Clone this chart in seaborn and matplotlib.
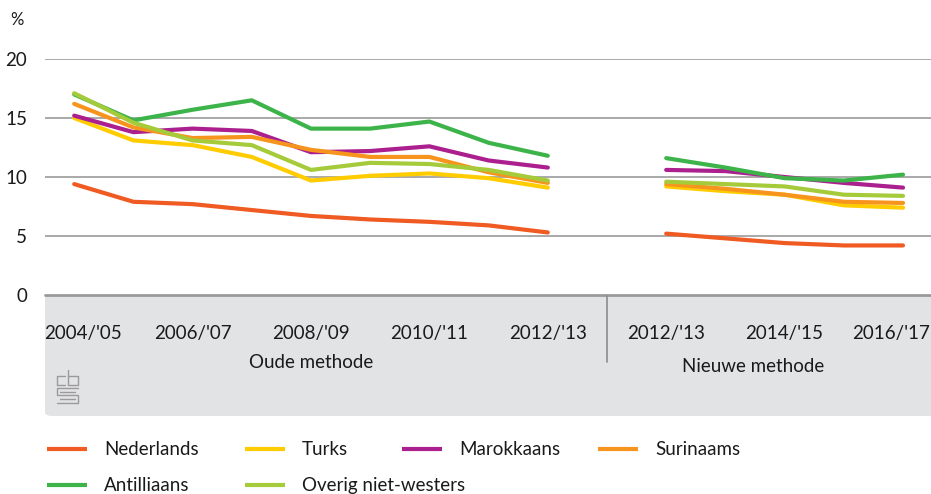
import numpy as np
import pandas as pd
import seaborn as sns
import matplotlib
matplotlib.use("Agg")
import matplotlib.pyplot as plt
from matplotlib.patches import FancyBboxPatch
from matplotlib.lines import Line2D
from matplotlib.transforms import ScaledTranslation

# Schooljaren, oude en nieuwe methode
jaren_oud = ["2004/'05", "2005/'06", "2006/'07", "2007/'08", "2008/'09",
             "2009/'10", "2010/'11", "2011/'12", "2012/'13"]
jaren_nieuw = ["2012/'13", "2013/'14", "2014/'15", "2015/'16", "2016/'17"]

groepen = ["Nederlands", "Turks", "Marokkaans", "Surinaams",
           "Antilliaans", "Overig niet-westers"]

# Percentages (%)
nederlands_oud = [9.4, 7.9, 7.7, 7.2, 6.7, 6.4, 6.2, 5.9, 5.3]
turks_oud = [15.0, 13.1, 12.7, 11.7, 9.7, 10.1, 10.3, 9.9, 9.1]
marokkaans_oud = [15.2, 13.8, 14.1, 13.9, 12.1, 12.2, 12.6, 11.4, 10.8]
surinaams_oud = [16.2, 14.2, 13.3, 13.4, 12.3, 11.7, 11.7, 10.4, 9.5]
antilliaans_oud = [17.0, 14.8, 15.7, 16.5, 14.1, 14.1, 14.7, 12.9, 11.8]
overig_oud = [17.1, 14.6, 13.1, 12.7, 10.6, 11.2, 11.1, 10.6, 9.7]

nederlands_nieuw = [5.2, 4.8, 4.4, 4.2, 4.2]
turks_nieuw = [9.2, 8.8, 8.5, 7.6, 7.4]
marokkaans_nieuw = [10.6, 10.5, 10.0, 9.5, 9.1]
surinaams_nieuw = [9.4, 9.0, 8.5, 7.9, 7.8]
antilliaans_nieuw = [11.6, 10.8, 9.9, 9.7, 10.2]
overig_nieuw = [9.6, 9.4, 9.2, 8.5, 8.4]

kleuren = ["#f05a23", "#ffcc00", "#ab208e", "#f7941d", "#3db44a", "#a6cb3a"]

tick_labels = ["2004/'05", "2006/'07", "2008/'09", "2010/'11", "2012/'13",
               "2012/'13", "2014/'15", "2016/'17"]

oud = [nederlands_oud, turks_oud, marokkaans_oud, surinaams_oud,
       antilliaans_oud, overig_oud]
nieuw = [nederlands_nieuw, turks_nieuw, marokkaans_nieuw, surinaams_nieuw,
         antilliaans_nieuw, overig_nieuw]

# Positions on the x axis: old method 0..8, a gap, new method 10..14
pos_oud = list(range(len(jaren_oud)))
pos_nieuw = [len(jaren_oud) + 1 + i for i in range(len(jaren_nieuw))]

rows = []
for g, vals in zip(groepen, oud):
    for p, j, v in zip(pos_oud, jaren_oud, vals):
        rows.append(dict(groep=g, jaar=j, pos=p, waarde=v, methode="Oude methode"))
for g, vals in zip(groepen, nieuw):
    for p, j, v in zip(pos_nieuw, jaren_nieuw, vals):
        rows.append(dict(groep=g, jaar=j, pos=p, waarde=v, methode="Nieuwe methode"))
df = pd.DataFrame(rows)

sns.set_theme(style="white")
plt.rcParams["font.family"] = ["Lato", "DejaVu Sans"]
plt.rcParams["font.weight"] = "normal"

TXT = "#1a1a1a"
FS = 13.5

W, H = 931, 494
fig = plt.figure(figsize=(W / 100, H / 100), dpi=100)
fig.patch.set_facecolor("white")

def fx(px):
    return px / W

def fy(py):
    return 1 - py / H

ax_left, ax_right, ax_top, ax_bottom = 45, 931, 59, 295
ax = fig.add_axes([fx(ax_left), fy(ax_bottom), fx(ax_right - ax_left),
                   fy(ax_top) - fy(ax_bottom)])
ax.set_facecolor("white")

# grey band underneath the x axis
band = FancyBboxPatch((fx(45), fy(416)), fx(940 - 45), fy(275) - fy(416),
                      boxstyle="round,pad=0,rounding_size=0.008",
                      transform=fig.transFigure, facecolor="#e2e3e5",
                      edgecolor="none", zorder=-1)
fig.patches.append(band)

palette = dict(zip(groepen, kleuren))
for m in ["Oude methode", "Nieuwe methode"]:
    sns.lineplot(data=df[df.methode == m], x="pos", y="waarde", hue="groep",
                 hue_order=groepen, palette=palette, linewidth=3.0,
                 legend=False, ax=ax, zorder=3)

px_per_unit = 59.2
x0 = 74.2
ax.set_xlim(-(x0 - ax_left) / px_per_unit, (ax_right - x0) / px_per_unit)
ax.set_ylim(0, 20)

ax.set_yticks([0, 5, 10, 15, 20])
ax.set_yticklabels(["0", "5", "10", "15", "20"])
for y in [5, 10, 15, 20]:
    ax.axhline(y, color="#a9a9a9", linewidth=1.4, zorder=1)
ax.axhline(0, color="#9a9a9a", linewidth=2.0, zorder=2, clip_on=False)

ax.set_xticks([0, 2, 4, 6, 8, 10, 12, 14])
ax.set_xticklabels(tick_labels)
ax.tick_params(axis="x", direction="out", length=11.5, width=1.0,
               color="#9a9a9a", pad=10, labelsize=FS, labelcolor=TXT)
ax.tick_params(axis="y", length=0, pad=13, labelsize=FS, labelcolor=TXT)
ax.set_xlabel("")
ax.set_ylabel("")
for s in ax.spines.values():
    s.set_visible(False)

# keep the outer year labels inside the band
xl = ax.get_xticklabels()
xl[0].set_transform(xl[0].get_transform() + ScaledTranslation(0.09, 0, fig.dpi_scale_trans))
xl[-1].set_transform(xl[-1].get_transform() + ScaledTranslation(-0.12, 0, fig.dpi_scale_trans))

# divider between the two methods
fig.add_artist(Line2D([fx(607), fx(607)], [fy(296), fy(362)],
                      transform=fig.transFigure, color="#8c8c8c", linewidth=1.2))

fig.text(fx(311), fy(362), "Oude methode", ha="center", va="center",
         fontsize=FS, color=TXT)
fig.text(fx(753), fy(366), "Nieuwe methode", ha="center", va="center",
         fontsize=FS, color=TXT)
fig.text(fx(10), fy(20), "%", ha="left", va="center", fontsize=12, color=TXT)

# cbs mark in the band
logo = "#9b9b9b"
def seg(xs, ys):
    fig.add_artist(Line2D([fx(x) for x in xs], [fy(y) for y in ys],
                          transform=fig.transFigure, color=logo, linewidth=1.0))
seg([65, 57, 57, 65], [376, 376, 385, 385])
seg([68, 68, 78, 78, 68], [370, 385, 385, 376, 376])
seg([78, 57, 57, 78, 78, 57], [388, 388, 395, 395, 403, 403])
seg([60, 75], [391.5, 391.5])
seg([60, 75], [399, 399])

# legend
legend_items = [
    ("Nederlands", kleuren[0], 47, 449),
    ("Turks", kleuren[1], 245, 449),
    ("Marokkaans", kleuren[2], 402, 449),
    ("Surinaams", kleuren[3], 598, 449),
    ("Antilliaans", kleuren[4], 47, 485),
    ("Overig niet-westers", kleuren[5], 245, 485),
]
for naam, kleur, lx, ly in legend_items:
    fig.add_artist(Line2D([fx(lx), fx(lx + 40)], [fy(ly), fy(ly)],
                          transform=fig.transFigure, color=kleur,
                          linewidth=3.0, solid_capstyle="butt"))
    fig.text(fx(lx + 57), fy(ly), naam, ha="left", va="center",
             fontsize=FS, color=TXT)

fig.savefig("out.png", dpi=100)
